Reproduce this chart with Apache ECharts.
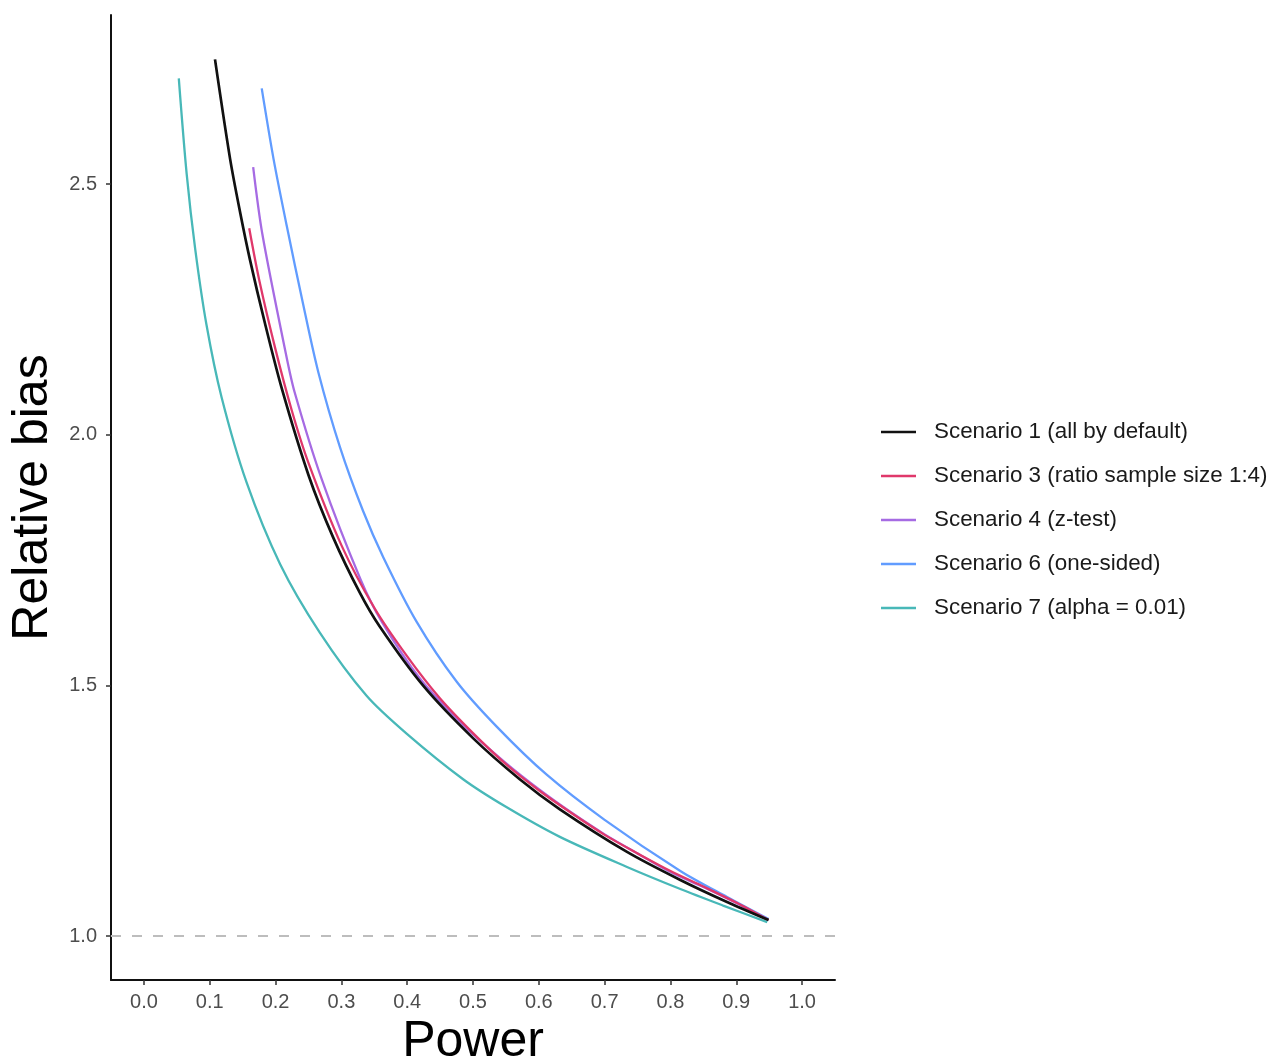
<!DOCTYPE html>
<html>
<head>
<meta charset="utf-8">
<script src="https://cdn.jsdelivr.net/npm/echarts@6/dist/echarts.min.js"></script>
<style>
html,body{margin:0;padding:0;background:#fff;}
#chart{width:1277px;height:1060px;}
</style>
</head>
<body>
<div id="chart"></div>
<script>
// ---- data ----
var seriesNames = [
  "Scenario 1 (all by default)",
  "Scenario 3 (ratio sample size 1:4)",
  "Scenario 4 (z-test)",
  "Scenario 6 (one-sided)",
  "Scenario 7 (alpha = 0.01)"
];
var seriesColors = ["#111111", "#E0386B", "#A66BE3", "#619CFF", "#48B8B8"];

var s1Power = [0.108, 0.131, 0.146, 0.161, 0.184, 0.210, 0.250, 0.287, 0.328, 0.358, 0.424, 0.500, 0.571, 0.632, 0.734, 0.815, 0.886, 0.949];
var s1Bias  = [2.749, 2.550, 2.445, 2.350, 2.222, 2.090, 1.920, 1.797, 1.685, 1.618, 1.500, 1.395, 1.313, 1.253, 1.168, 1.112, 1.068, 1.032];

var s3Power = [0.160, 0.175, 0.200, 0.225, 0.250, 0.300, 0.350, 0.400, 0.450, 0.500, 0.550, 0.600, 0.650, 0.700, 0.750, 0.800, 0.850, 0.900, 0.949];
var s3Bias  = [2.412, 2.310, 2.170, 2.047, 1.944, 1.780, 1.655, 1.558, 1.474, 1.405, 1.343, 1.291, 1.245, 1.202, 1.165, 1.130, 1.099, 1.067, 1.032];

var s4Power = [0.166, 0.180, 0.216, 0.229, 0.270, 0.329, 0.362, 0.420, 0.487, 0.550, 0.600, 0.650, 0.700, 0.750, 0.800, 0.850, 0.900, 0.949];
var s4Bias  = [2.534, 2.400, 2.160, 2.085, 1.912, 1.712, 1.626, 1.513, 1.419, 1.345, 1.293, 1.246, 1.203, 1.165, 1.128, 1.098, 1.066, 1.032];

var s6Power = [0.179, 0.197, 0.217, 0.242, 0.265, 0.298, 0.333, 0.364, 0.414, 0.475, 0.536, 0.612, 0.700, 0.815, 0.886, 0.949];
var s6Bias  = [2.691, 2.550, 2.417, 2.260, 2.125, 1.975, 1.848, 1.755, 1.628, 1.508, 1.418, 1.322, 1.232, 1.130, 1.078, 1.034];

var s7Power = [0.053, 0.065, 0.078, 0.095, 0.118, 0.156, 0.207, 0.267, 0.338, 0.400, 0.485, 0.550, 0.632, 0.734, 0.815, 0.880, 0.947];
var s7Bias  = [2.711, 2.520, 2.370, 2.220, 2.075, 1.905, 1.742, 1.606, 1.480, 1.403, 1.313, 1.258, 1.198, 1.138, 1.094, 1.061, 1.028];

var xTicks = [0.0, 0.1, 0.2, 0.3, 0.4, 0.5, 0.6, 0.7, 0.8, 0.9, 1.0];
var yTicks = [1.0, 1.5, 2.0, 2.5];
var referenceBias = 1.0;
// ----------------------------------------------

function pairs(xs, ys) { return xs.map(function (x, i) { return [x, ys[i]]; }); }
var allX = [s1Power, s3Power, s4Power, s6Power, s7Power];
var allY = [s1Bias, s3Bias, s4Bias, s6Bias, s7Bias];

var series = seriesNames.map(function (name, i) {
  var s = {
    name: name,
    type: 'line',
    data: pairs(allX[i], allY[i]),
    showSymbol: false,
    symbol: 'none',
    smooth: 0.3,
    z: 10 - i,
    lineStyle: { color: seriesColors[i], width: i === 0 ? 2.7 : 2.3 },
    itemStyle: { color: seriesColors[i] },
    emphasis: { disabled: true },
    animation: false
  };
  if (i === 0) {
    s.markLine = {
      silent: true,
      symbol: ['none', 'none'],
      label: { show: false },
      lineStyle: { color: '#BDBDBD', type: [10, 11], width: 2 },
      data: [{ yAxis: referenceBias }],
      animation: false
    };
  }
  return s;
});

var chart = echarts.init(document.getElementById('chart'), null, { renderer: 'canvas' });
chart.setOption({
  backgroundColor: '#ffffff',
  animation: false,
  grid: { left: 111, top: 15, right: 442, bottom: 80, containLabel: false, outerBoundsMode: 'none' },
  xAxis: {
    type: 'value',
    min: -0.05,
    max: 1.05,
    name: 'Power',
    nameLocation: 'middle',
    nameGap: 32,
    nameTextStyle: { fontFamily: 'Liberation Sans', fontSize: 50, color: '#000' },
    axisLine: { show: true, onZero: false, lineStyle: { color: '#111', width: 2 } },
    axisTick: { show: true, length: 5, customValues: xTicks, lineStyle: { color: '#333', width: 1.5 } },
    axisLabel: { customValues: xTicks, margin: 12, fontFamily: 'Liberation Sans', fontSize: 20, color: '#4D4D4D',
      formatter: function (v) { return v.toFixed(1); } },
    splitLine: { show: false }
  },
  yAxis: {
    type: 'value',
    min: 0.9125,
    max: 2.8375,
    name: 'Relative bias',
    nameLocation: 'middle',
    nameRotate: 90,
    nameGap: 50,
    nameTextStyle: { fontFamily: 'Liberation Sans', fontSize: 50, color: '#000' },
    axisLine: { show: true, onZero: false, lineStyle: { color: '#111', width: 2 } },
    axisTick: { show: true, length: 5, customValues: yTicks, lineStyle: { color: '#333', width: 1.5 } },
    axisLabel: { customValues: yTicks, margin: 14, fontFamily: 'Liberation Sans', fontSize: 20, color: '#4D4D4D',
      formatter: function (v) { return v.toFixed(1); } },
    splitLine: { show: false }
  },
  legend: {
    orient: 'vertical',
    left: 876,
    top: 416,
    icon: 'rect',
    itemWidth: 35,
    itemHeight: 2.5,
    itemGap: 22,
    selectedMode: false,
    data: seriesNames,
    textStyle: { fontFamily: 'Liberation Sans', fontSize: 22.4, color: '#1A1A1A', lineHeight: 22, padding: [0, 0, 0, 13] }
  },
  series: series
});
</script>
</body>
</html>
